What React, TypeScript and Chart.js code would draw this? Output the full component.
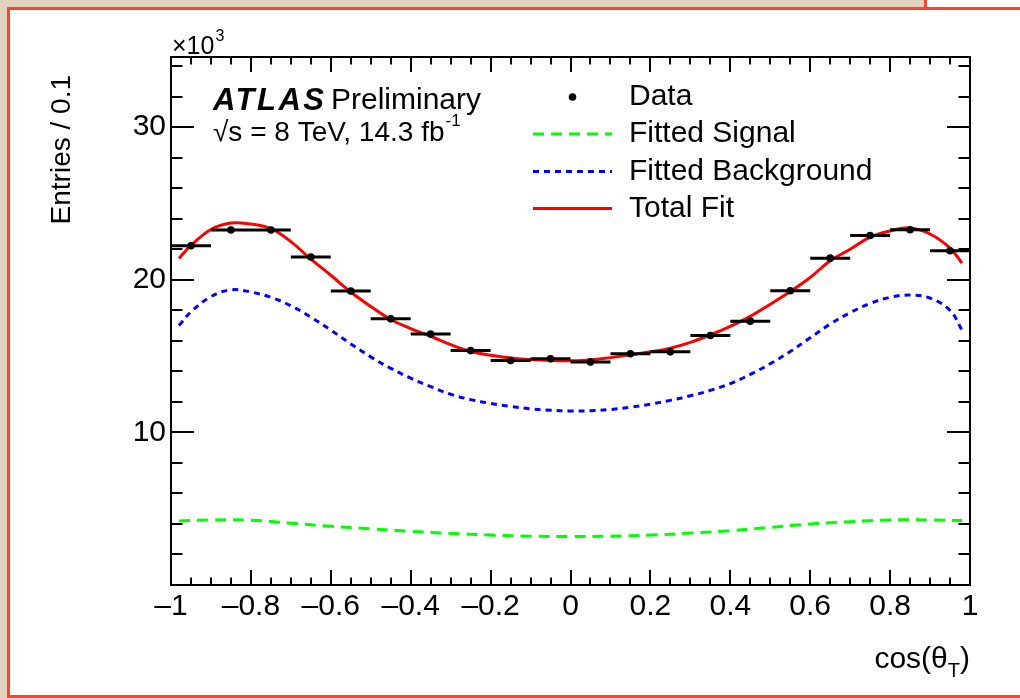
import React, { useEffect, useRef } from "react";
import { Chart, registerables } from "chart.js";

Chart.register(...registerables);

// ---------- data ----------
const binCenters = [-0.95, -0.85, -0.75, -0.65, -0.55, -0.45, -0.35, -0.25, -0.15, -0.05, 0.05, 0.15, 0.25, 0.35, 0.45, 0.55, 0.65, 0.75, 0.85, 0.95];
const dataValues = [22.23, 23.26, 23.26, 21.49, 19.26, 17.44, 16.44, 15.36, 14.71, 14.82, 14.62, 15.15, 15.28, 16.35, 17.29, 19.28, 21.42, 22.9, 23.28, 21.9];
const binWidth = 0.1;

const fitX = [-0.98, -0.95, -0.9, -0.85, -0.8, -0.75, -0.7, -0.65, -0.6, -0.55, -0.5, -0.45, -0.4, -0.35, -0.3, -0.25, -0.2, -0.15, -0.1, -0.05, 0, 0.05, 0.1, 0.15, 0.2, 0.25, 0.3, 0.35, 0.4, 0.45, 0.5, 0.55, 0.6, 0.65, 0.7, 0.75, 0.8, 0.85, 0.9, 0.95, 0.98];
const totalFit = [21.4, 22.25, 23.3, 23.72, 23.65, 23.35, 22.5, 21.35, 20.3, 19.2, 18.25, 17.4, 16.8, 16.3, 15.75, 15.3, 15.05, 14.87, 14.77, 14.71, 14.7, 14.75, 14.9, 15.08, 15.28, 15.52, 15.9, 16.39, 16.95, 17.6, 18.4, 19.23, 20.15, 21.25, 22.0, 22.8, 23.2, 23.4, 23.0, 22.08, 21.09];
const backgroundFit = [17.0, 17.9, 18.9, 19.34, 19.2, 18.85, 18.3, 17.55, 16.7, 15.8, 14.95, 14.2, 13.55, 13.0, 12.5, 12.15, 11.9, 11.7, 11.55, 11.45, 11.4, 11.42, 11.5, 11.65, 11.85, 12.1, 12.4, 12.75, 13.2, 13.8, 14.5, 15.3, 16.2, 17.1, 17.85, 18.45, 18.85, 19.0, 18.8, 18.0, 16.7];

const signalX = [-0.98, -0.9, -0.8, -0.7, -0.6, -0.5, -0.4, -0.3, -0.2, -0.1, 0, 0.1, 0.2, 0.3, 0.4, 0.5, 0.6, 0.7, 0.8, 0.9, 0.98];
const signalFit = [4.2, 4.26, 4.25, 4.05, 3.85, 3.68, 3.52, 3.38, 3.28, 3.2, 3.17, 3.2, 3.27, 3.4, 3.56, 3.78, 4.0, 4.15, 4.26, 4.26, 4.22];

const xTickValues = [-1, -0.8, -0.6, -0.4, -0.2, 0, 0.2, 0.4, 0.6, 0.8, 1];
const xTickLabels = ["\u20131", "\u20130.8", "\u20130.6", "\u20130.4", "\u20130.2", "0", "0.2", "0.4", "0.6", "0.8", "1"];
const yTickValues = [10, 20, 30];
const yTickLabels = ["10", "20", "30"];
const yMin = 0;
const yMax = 34.6;

const legendLabels = ["Data", "Fitted Signal", "Fitted Background", "Total Fit"];

const FONT = "'Liberation Sans', Arial, Helvetica, sans-serif";

const rootPlugin = {
  id: "rootStyle",
  afterDraw(chart: any) {
    const { ctx, chartArea: a, scales } = chart;
    const xs = scales.x;
    const ys = scales.y;
    ctx.save();
    ctx.strokeStyle = "#000";
    ctx.lineWidth = 2;
    ctx.strokeRect(a.left, a.top, a.right - a.left, a.bottom - a.top);

    // x ticks (bottom & top)
    const xMajor = xs.ticks.map((t: any) => t.value);
    const drawX = (v: number, len: number) => {
      const px = Math.round(xs.getPixelForValue(v));
      ctx.beginPath();
      ctx.moveTo(px, a.bottom);
      ctx.lineTo(px, a.bottom - len);
      ctx.moveTo(px, a.top);
      ctx.lineTo(px, a.top + len);
      ctx.stroke();
    };
    for (let i = 0; i < xMajor.length; i++) {
      drawX(xMajor[i], 15);
      if (i < xMajor.length - 1) {
        const d = (xMajor[i + 1] - xMajor[i]) / 4;
        for (let k = 1; k < 4; k++) drawX(xMajor[i] + k * d, 7.5);
      }
    }
    // y ticks (left & right)
    const drawY = (v: number, len: number) => {
      const py = Math.round(ys.getPixelForValue(v));
      ctx.beginPath();
      ctx.moveTo(a.left, py);
      ctx.lineTo(a.left + len, py);
      ctx.moveTo(a.right, py);
      ctx.lineTo(a.right - len, py);
      ctx.stroke();
    };
    const yMajorStep = yTickValues[1] - yTickValues[0];
    const yMinorStep = yMajorStep / 5;
    for (let v = Math.ceil(ys.min / yMinorStep) * yMinorStep; v <= ys.max; v += yMinorStep) {
      const isMajor = Math.abs(v / yMajorStep - Math.round(v / yMajorStep)) < 1e-6;
      if (v <= ys.min + 1e-6) continue;
      drawY(v, isMajor ? 23 : 11.5);
    }

    // text
    ctx.fillStyle = "#000";
    ctx.textBaseline = "middle";
    ctx.textAlign = "left";

    // x10^3
    ctx.font = `25px ${FONT}`;
    ctx.fillText("\u00d710", 172, 47);
    const w10 = ctx.measureText("\u00d710").width;
    ctx.font = `16px ${FONT}`;
    ctx.fillText("3", 172 + w10 + 1, 37);

    // ATLAS Preliminary
    ctx.font = `italic bold 31px ${FONT}`;
    (ctx as any).letterSpacing = "2.5px";
    ctx.fillText("ATLAS", 213, 101);
    (ctx as any).letterSpacing = "0px";
    ctx.font = `30px ${FONT}`;
    ctx.fillText("Preliminary", 331, 101);
    const line2 = "\u221As = 8 TeV, 14.3 fb";
    ctx.font = `28px ${FONT}`;
    ctx.fillText(line2, 213, 133);
    const wl2 = ctx.measureText(line2).width;
    ctx.font = `17px ${FONT}`;
    ctx.fillText("-1", 213 + wl2 + 1, 121);

    // legend
    const rows = [97, 134, 171.5, 208.5];
    const ds = chart.data.datasets;
    const legendDs = [ds[0], ds[4], ds[3], ds[2]];
    const sx0 = 533, sx1 = 612, tx = 629;
    legendDs.forEach((d: any, i: number) => {
      const y = rows[i];
      if (i === 0) {
        ctx.beginPath();
        ctx.fillStyle = d.pointBackgroundColor;
        ctx.arc((sx0 + sx1) / 2, y, d.pointRadius, 0, Math.PI * 2);
        ctx.fill();
      } else {
        ctx.beginPath();
        ctx.strokeStyle = d.borderColor;
        ctx.lineWidth = d.borderWidth;
        ctx.setLineDash(d.borderDash || []);
        ctx.moveTo(sx0, y);
        ctx.lineTo(sx1, y);
        ctx.stroke();
        ctx.setLineDash([]);
      }
      ctx.fillStyle = "#000";
      ctx.font = `30px ${FONT}`;
      ctx.fillText(legendLabels[i], tx, y);
    });

    // x axis title cos(θ_T), right aligned to the frame
    ctx.font = `30px ${FONT}`;
    const main = "cos(\u03b8";
    const wMain = ctx.measureText(main).width;
    const wClose = ctx.measureText(")").width;
    ctx.font = `20px ${FONT}`;
    const wSub = ctx.measureText("T").width;
    const startX = a.right - (wMain + wSub + wClose);
    ctx.font = `30px ${FONT}`;
    ctx.fillText(main, startX, 660);
    ctx.fillText(")", startX + wMain + wSub, 660);
    ctx.font = `20px ${FONT}`;
    ctx.fillText("T", startX + wMain, 671);

    // y axis title
    ctx.save();
    ctx.translate(62, 75);
    ctx.rotate(-Math.PI / 2);
    ctx.textAlign = "right";
    ctx.font = `28px ${FONT}`;
    ctx.fillText("Entries / 0.1", 0, 0);
    ctx.restore();

    ctx.restore();
  },
};

export default function App() {
  const ref = useRef<HTMLCanvasElement>(null);
  useEffect(() => {
    const canvas = ref.current;
    if (!canvas) return;

    const errBars: any[] = [];
    binCenters.forEach((c, i) => {
      errBars.push({ x: c - binWidth / 2, y: dataValues[i] });
      errBars.push({ x: c + binWidth / 2, y: dataValues[i] });
      errBars.push({ x: c + binWidth / 2, y: null });
    });

    const chart = new Chart(canvas, {
      type: "scatter",
      data: {
        datasets: [
          {
            label: "Data",
            data: binCenters.map((x, i) => ({ x, y: dataValues[i] })),
            pointRadius: 3.8,
            pointBackgroundColor: "#000",
            pointBorderWidth: 0,
            showLine: false,
          },
          {
            label: "errors",
            data: errBars,
            showLine: true,
            spanGaps: false,
            borderColor: "#000",
            borderWidth: 3,
            pointRadius: 0,
          },
          {
            label: "Total Fit",
            data: fitX.map((x, i) => ({ x, y: totalFit[i] })),
            showLine: true,
            borderColor: "#ff0000",
            borderWidth: 3,
            pointRadius: 0,
            tension: 0.4,
          },
          {
            label: "Fitted Background",
            data: fitX.map((x, i) => ({ x, y: backgroundFit[i] })),
            showLine: true,
            borderColor: "#0000ff",
            borderWidth: 3,
            borderDash: [6, 5],
            pointRadius: 0,
            tension: 0.4,
          },
          {
            label: "Fitted Signal",
            data: signalX.map((x, i) => ({ x, y: signalFit[i] })),
            showLine: true,
            borderColor: "#00ff00",
            borderWidth: 3,
            borderDash: [11, 7],
            pointRadius: 0,
            tension: 0.4,
          },
        ],
      },
      options: {
        responsive: false,
        animation: false,
        events: [],
        layout: { padding: { left: 0, top: 57, right: 50, bottom: 0 } },
        plugins: { legend: { display: false }, tooltip: { enabled: false } },
        scales: {
          x: {
            type: "linear",
            min: -1,
            max: 1,
            grid: { display: false, drawTicks: false },
            border: { display: false },
            afterBuildTicks: (s: any) => {
              s.ticks = xTickValues.map((v) => ({ value: v }));
            },
            afterFit: (s: any) => {
              s.height = 113;
            },
            ticks: {
              autoSkip: false,
              maxRotation: 0,
              padding: 4,
              color: "#000",
              font: { family: FONT, size: 30 },
              callback: (v: any) => {
                const i = xTickValues.findIndex((t) => Math.abs(t - v) < 1e-9);
                return i >= 0 ? xTickLabels[i] : "";
              },
            },
          },
          y: {
            type: "linear",
            min: yMin,
            max: yMax,
            grid: { display: false, drawTicks: false },
            border: { display: false },
            afterBuildTicks: (s: any) => {
              s.ticks = yTickValues.map((v) => ({ value: v }));
            },
            afterFit: (s: any) => {
              s.width = 171;
            },
            ticks: {
              autoSkip: false,
              padding: 5,
              color: "#000",
              font: { family: FONT, size: 30 },
              callback: (v: any) => {
                const i = yTickValues.findIndex((t) => Math.abs(t - v) < 1e-9);
                return i >= 0 ? yTickLabels[i] : "";
              },
            },
          },
        },
      },
      plugins: [rootPlugin],
    } as any);
    return () => chart.destroy();
  }, []);

  return (
    <div style={{ position: "absolute", left: 0, top: 0, width: 1020, height: 698, overflow: "hidden", background: "#e2d3bf" }}>
      <div style={{ position: "absolute", left: 924, top: 0, width: 120, height: 10, background: "#fff", borderLeft: "3px solid #f04a2c", boxSizing: "border-box" }} />
      <div style={{ position: "absolute", left: 7, top: 7, width: 1040, height: 691, background: "#fff", border: "3px solid #f04a2c", boxSizing: "border-box" }} />
      <canvas ref={ref} width={1020} height={698} style={{ position: "absolute", left: 0, top: 0 }} />
    </div>
  );
}
